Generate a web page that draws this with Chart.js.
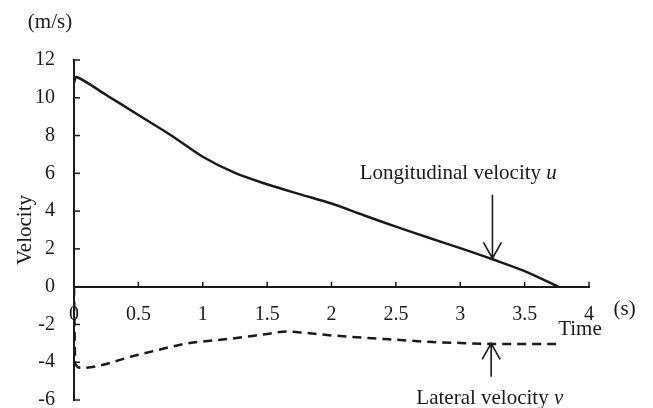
<!DOCTYPE html>
<html>
<head>
<meta charset="utf-8">
<script src="https://cdn.jsdelivr.net/npm/chart.js@4"></script>
<style>
  html, body { margin: 0; padding: 0; background: #fff; }
  #wrap { width: 653px; height: 408px; }
</style>
</head>
<body>
<div id="wrap"><canvas id="velChart"></canvas></div>
<script>
// Longitudinal velocity u (solid)
const uTime = [0, 0.02, 0.25, 0.5, 0.75, 1.0, 1.25, 1.5, 1.75, 2.0, 2.25, 2.5, 2.75, 3.0, 3.25, 3.5, 3.76];
const uVel  = [10.8, 11.1, 10.15, 9.09, 8.03, 6.88, 6.02, 5.42, 4.9, 4.4, 3.78, 3.18, 2.6, 2.04, 1.45, 0.82, 0];

// Lateral velocity v (dashed)
const vTime = [0, 0.01, 0.06, 0.5, 0.9, 1.0, 1.25, 1.5, 1.65, 1.8, 2.0, 2.25, 2.5, 2.75, 3.0, 3.25, 3.5, 3.76];
const vVel  = [0, -4.1, -4.3, -3.6, -2.98, -2.9, -2.73, -2.5, -2.37, -2.45, -2.58, -2.7, -2.81, -2.92, -2.98, -3.03, -3.03, -3.03];

// Tick values
const xTicks = [0, 0.5, 1, 1.5, 2, 2.5, 3, 3.5, 4];
const yTicks = [-6, -4, -2, 0, 2, 4, 6, 8, 10, 12];

const INK = "#1a1a1a";
const SERIF = '"Liberation Serif", "Times New Roman", serif';

function toPoints(xs, ys) {
    return xs.map((x, i) => ({ x: x, y: ys[i] }));
}

// inner tick marks, arrows and text labels
const extras = {
    id: "extras",
    afterDraw(chart) {
        const ctx = chart.ctx;
        const xs = chart.scales.x;
        const ys = chart.scales.y;
        const area = chart.chartArea;
        const y0 = ys.getPixelForValue(0);

        ctx.save();
        ctx.strokeStyle = INK;
        ctx.lineWidth = 1.5;

        // y ticks pointing right
        yTicks.forEach(v => {
            const py = ys.getPixelForValue(v);
            ctx.beginPath();
            ctx.moveTo(area.left, py);
            ctx.lineTo(area.left + 6, py);
            ctx.stroke();
        });

        // x ticks pointing up
        xTicks.forEach(v => {
            if (v === 0) return;
            const px = xs.getPixelForValue(v);
            ctx.beginPath();
            ctx.moveTo(px, y0);
            ctx.lineTo(px, y0 - 5);
            ctx.stroke();
        });

        // arrows
        function arrow(xv, fromV, toV) {
            const px = xs.getPixelForValue(xv);
            const p1 = ys.getPixelForValue(fromV);
            const p2 = ys.getPixelForValue(toV);
            const dir = p2 > p1 ? 1 : -1;
            ctx.lineWidth = 1.6;
            ctx.beginPath();
            ctx.moveTo(px, p1);
            ctx.lineTo(px, p2);
            ctx.moveTo(px - 9, p2 - dir * 16);
            ctx.lineTo(px, p2);
            ctx.lineTo(px + 9, p2 - dir * 16);
            ctx.stroke();
        }
        arrow(3.25, 4.86, 1.5);
        arrow(3.24, -4.77, -3.0);

        // texts
        ctx.fillStyle = INK;
        ctx.textBaseline = "middle";
        const normal = "21px " + SERIF;
        const italic = "italic 21px " + SERIF;

        function labelWithVar(text, varName, rightX, yv) {
            const py = ys.getPixelForValue(yv);
            const right = xs.getPixelForValue(rightX);
            ctx.font = italic;
            const wv = ctx.measureText(varName).width;
            ctx.font = normal;
            const wt = ctx.measureText(text).width;
            ctx.textAlign = "left";
            ctx.fillText(text, right - wv - wt, py);
            ctx.font = italic;
            ctx.fillText(varName, right - wv, py);
        }
        labelWithVar("Longitudinal velocity ", "u", 3.75, 6.0);
        labelWithVar("Lateral velocity ", "v", 3.80, -5.9);

        ctx.font = normal;
        ctx.textAlign = "center";
        ctx.fillText("Time", xs.getPixelForValue(3.93), ys.getPixelForValue(-2.25));
        ctx.textAlign = "left";
        ctx.fillText("(s)", xs.getPixelForValue(4.19), ys.getPixelForValue(-1.22));

        ctx.textAlign = "center";
        ctx.fillText("(m/s)", area.left - 24, area.top - 38);

        ctx.translate(area.left - 49, (area.top + area.bottom) / 2);
        ctx.rotate(-Math.PI / 2);
        ctx.fillText("Velocity", 0, 0);
        ctx.restore();
    }
};

const ctx = document.getElementById("velChart");

const chart = new Chart(ctx, {
    type: "line",
    data: {
        datasets: [{
            label: "Longitudinal velocity u",
            data: toPoints(uTime, uVel),
            borderColor: INK,
            borderWidth: 2.5,
            pointRadius: 0,
            tension: 0.3,
            fill: false
        }, {
            label: "Lateral velocity v",
            data: toPoints(vTime, vVel),
            borderColor: INK,
            borderWidth: 2.5,
            borderDash: [9, 6],
            pointRadius: 0,
            cubicInterpolationMode: "monotone",
            fill: false
        }]
    },
    options: {
        responsive: true,
        maintainAspectRatio: false,
        animation: false,
        layout: {
            padding: { left: 0, right: 64, top: 60, bottom: 8 }
        },
        plugins: {
            legend: { display: false },
            tooltip: { enabled: false }
        },
        scales: {
            x: {
                type: "linear",
                min: 0,
                max: 4,
                position: { y: 0 },
                afterBuildTicks: scale => {
                    scale.ticks = xTicks.map(v => ({ value: v }));
                },
                grid: { display: false },
                border: { display: true, color: INK, width: 2 },
                ticks: {
                    color: INK,
                    padding: 8,
                    maxRotation: 0,
                    autoSkip: false,
                    font: { family: SERIF, size: 20 },
                    callback: v => String(v)
                }
            },
            y: {
                type: "linear",
                min: -6,
                max: 12,
                position: "left",
                afterBuildTicks: scale => {
                    scale.ticks = yTicks.map(v => ({ value: v }));
                },
                afterFit: scale => {
                    scale.width = 74;
                    scale.paddingTop = 0;
                    scale.paddingBottom = 0;
                },
                grid: { display: false },
                border: { display: true, color: INK, width: 2 },
                ticks: {
                    color: INK,
                    padding: 11,
                    autoSkip: false,
                    font: { family: SERIF, size: 20 },
                    callback: v => String(v)
                }
            }
        }
    },
    plugins: [extras]
});
</script>
</body>
</html>
